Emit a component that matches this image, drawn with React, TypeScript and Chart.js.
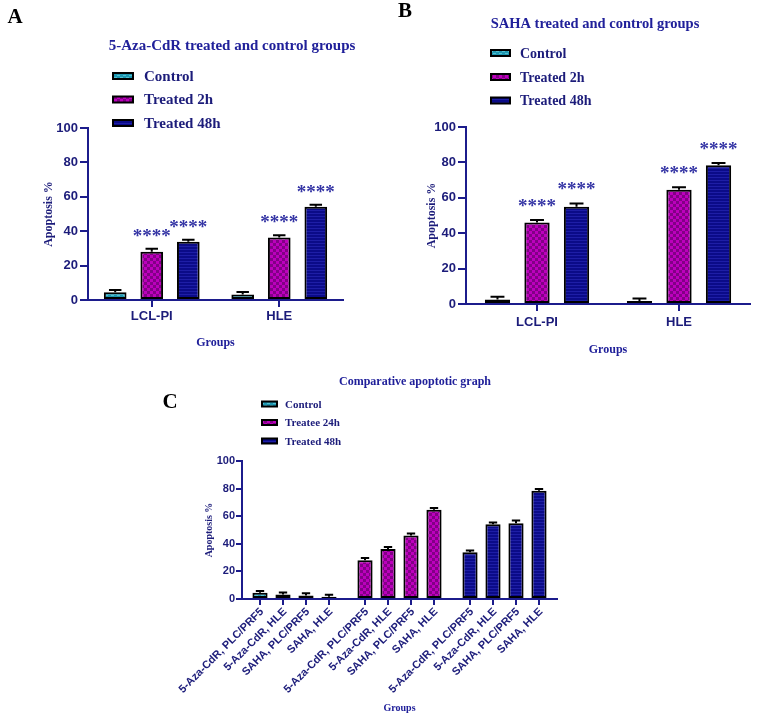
import React, { useEffect, useRef } from 'react';
import { Chart, registerables } from 'chart.js';
Chart.register(...registerables);

// ---------- data ----------
const groupsAB = ['LCL-PI', 'HLE'];
const seriesAB = ['Control', 'Treated 2h', 'Treated 48h'];

const aControl = [4.5, 3.2];
const aControlErr = [1.3, 1.5];
const aTreated2h = [28, 36.3];
const aTreated2hErr = [1.8, 1.4];
const aTreated48h = [33.8, 54.2];
const aTreated48hErr = [1.3, 1.2];

const bControl = [2.6, 1.7];
const bControlErr = [1.5, 1.4];
const bTreated2h = [46, 64.6];
const bTreated2hErr = [1.4, 1.3];
const bTreated48h = [54.9, 78.4];
const bTreated48hErr = [1.9, 1.3];

const cCombos = ['5-Aza-CdR, PLC/PRF5', '5-Aza-CdR, HLE', 'SAHA, PLC/PRF5', 'SAHA, HLE'];
const cSeries = ['Control', 'Treatee 24h', 'Treated 48h'];
const cControl = [4.5, 3.2, 2.6, 1.7];
const cControlErr = [1.3, 1.5, 1.5, 1.4];
const cTreated24h = [28, 36.3, 46, 64.6];
const cTreated24hErr = [1.8, 1.4, 1.4, 1.3];
const cTreated48h = [33.8, 54.2, 54.9, 78.4];
const cTreated48hErr = [1.3, 1.2, 1.9, 1.3];

const starMark = '****';

// ---------- styles ----------
const SANS = '"Liberation Sans", Arial, sans-serif';
const SERIF = '"Liberation Serif", "Times New Roman", serif';
const AXIS = '#1c1c8c';
const TEXT = '#1c1c7a';
const TITLE = '#20209a';
const STAR = '#3535a5';

function makePatterns() {
  const mk = (w: number, h: number, draw: (x: CanvasRenderingContext2D) => void) => {
    const c = document.createElement('canvas');
    c.width = w; c.height = h;
    const x = c.getContext('2d')!;
    draw(x);
    return x.createPattern(c, 'repeat')!;
  };
  const teal = mk(6, 4, (x) => {
    x.fillStyle = '#1f98b2'; x.fillRect(0, 0, 6, 4);
    x.fillStyle = '#55c0d0'; x.fillRect(0, 1, 3, 1); x.fillRect(3, 3, 3, 1);
  });
  const magenta = mk(6, 6, (x) => {
    x.fillStyle = '#bd00bd'; x.fillRect(0, 0, 6, 6);
    x.fillStyle = '#820086'; x.fillRect(0, 0, 3, 3); x.fillRect(3, 3, 3, 3);
  });
  const navy = mk(4, 3, (x) => {
    x.fillStyle = '#0b0b88'; x.fillRect(0, 0, 4, 3);
    x.fillStyle = '#1e1ea6'; x.fillRect(0, 0, 4, 1);
  });
  return { teal, magenta, navy };
}

type Spec = {
  letter: string; letterX: number; letterY: number;
  title: string; titleX: number; titleY: number; titleSize: number;
  legendLabels: string[]; legendFills: any[];
  sx: number; sw: number; sh: number; tx: number; rows: number[]; legendSize: number;
  errors: number[][];
  stars?: boolean[];
  starGap?: number;
  capRatio: number;
  barLabels?: string[];
  barLabelSize?: number;
};

function annotate(spec: Spec) {
  return {
    id: 'annotate',
    afterDatasetsDraw(chart: any) {
      const ctx = chart.ctx as CanvasRenderingContext2D;
      const ys = chart.scales.y;
      const area = chart.chartArea;
      ctx.save();
      chart.data.datasets.forEach((ds: any, i: number) => {
        const meta = chart.getDatasetMeta(i);
        meta.data.forEach((el: any, j: number) => {
          const p = el.getProps(['x', 'y', 'width'], true);
          const v = ds.data[j];
          const e = spec.errors[i][j];
          const yTop = ys.getPixelForValue(v + e);
          const cap = p.width * spec.capRatio;
          ctx.strokeStyle = '#000';
          ctx.lineWidth = 2;
          ctx.beginPath();
          ctx.moveTo(p.x, p.y);
          ctx.lineTo(p.x, yTop);
          ctx.moveTo(p.x - cap / 2, yTop);
          ctx.lineTo(p.x + cap / 2, yTop);
          ctx.stroke();
          if (spec.stars && spec.stars[i]) {
            ctx.fillStyle = STAR;
            ctx.font = `bold 19px ${SERIF}`;
            ctx.textAlign = 'center';
            ctx.textBaseline = 'middle';
            ctx.fillText(starMark, p.x, yTop - (spec.starGap || 12));
          }
          if (spec.barLabels) {
            ctx.strokeStyle = AXIS;
            ctx.beginPath();
            ctx.moveTo(p.x, area.bottom);
            ctx.lineTo(p.x, area.bottom + 6);
            ctx.stroke();
            ctx.save();
            ctx.translate(p.x + 2, area.bottom + 11);
            ctx.rotate(-Math.PI / 4);
            ctx.fillStyle = TEXT;
            ctx.font = `bold ${spec.barLabelSize}px ${SANS}`;
            ctx.textAlign = 'right';
            ctx.textBaseline = 'middle';
            ctx.fillText(spec.barLabels[i], 0, 0);
            ctx.restore();
          }
        });
      });
      ctx.restore();
    },
    afterDraw(chart: any) {
      const ctx = chart.ctx as CanvasRenderingContext2D;
      ctx.save();
      ctx.fillStyle = '#000';
      ctx.font = `bold 21px ${SERIF}`;
      ctx.textAlign = 'center';
      ctx.textBaseline = 'middle';
      ctx.fillText(spec.letter, spec.letterX, spec.letterY);
      ctx.fillStyle = TITLE;
      ctx.font = `bold ${spec.titleSize}px ${SERIF}`;
      ctx.fillText(spec.title, spec.titleX, spec.titleY);
      spec.legendLabels.forEach((lab, k) => {
        const ry = spec.rows[k];
        ctx.fillStyle = spec.legendFills[k];
        ctx.fillRect(spec.sx, ry - spec.sh / 2 - 1, spec.sw, spec.sh);
        ctx.strokeStyle = '#000';
        ctx.lineWidth = 2;
        ctx.strokeRect(spec.sx, ry - spec.sh / 2 - 1, spec.sw, spec.sh);
        ctx.fillStyle = TEXT;
        ctx.font = `bold ${spec.legendSize}px ${SERIF}`;
        ctx.textAlign = 'left';
        ctx.fillText(lab, spec.tx, ry);
      });
      ctx.restore();
    },
  };
}

function yScale(o: any) {
  return {
    min: 0, max: 100,
    ticks: { stepSize: 20, font: { family: SANS, size: o.tickSize, weight: 'bold' }, color: TEXT, padding: o.tickPad },
    grid: { drawOnChartArea: false, color: AXIS, lineWidth: 2, tickLength: o.tickLen, tickColor: AXIS },
    border: { color: AXIS, width: 2 },
    title: {
      display: true, text: 'Apoptosis %',
      font: { family: SERIF, size: o.titleSize, weight: 'bold' }, color: TEXT,
      padding: { top: o.titlePad, bottom: 0 },
    },
    afterFit: (s: any) => { s.width = o.width; },
  };
}

function xScaleAB(o: any) {
  return {
    grid: { offset: false, drawOnChartArea: false, color: AXIS, lineWidth: 2, tickLength: 7, tickColor: AXIS },
    border: { color: AXIS, width: 2 },
    ticks: { font: { family: SANS, size: 13, weight: 'bold' }, color: TEXT, padding: o.tickPad, maxRotation: 0 },
    title: {
      display: true, text: 'Groups',
      font: { family: SERIF, size: 12, weight: 'bold' }, color: TITLE,
      padding: { top: 0, bottom: o.titlePad },
    },
    afterFit: (s: any) => { s.height = o.height; },
  };
}

function buildAB(which: 'A' | 'B') {
  const P = makePatterns();
  const isA = which === 'A';
  const vals = isA ? [aControl, aTreated2h, aTreated48h] : [bControl, bTreated2h, bTreated48h];
  const errs = isA ? [aControlErr, aTreated2hErr, aTreated48hErr] : [bControlErr, bTreated2hErr, bTreated48hErr];
  const fills = [P.teal, P.magenta, P.navy];
  const spec: Spec = isA
    ? {
        letter: 'A', letterX: 15, letterY: 18,
        title: '5-Aza-CdR treated and control groups', titleX: 232, titleY: 46, titleSize: 15,
        legendLabels: seriesAB, legendFills: fills,
        sx: 113, sw: 20, sh: 6, tx: 144, rows: [77, 100.5, 124], legendSize: 15,
        errors: errs, stars: [false, true, true], starGap: 12, capRatio: 0.55,
      }
    : {
        letter: 'B', letterX: 26, letterY: 12,
        title: 'SAHA treated and control groups', titleX: 216, titleY: 24, titleSize: 14.5,
        legendLabels: seriesAB, legendFills: fills,
        sx: 112, sw: 19, sh: 6, tx: 141, rows: [54, 78, 101.5], legendSize: 14,
        errors: errs, stars: [false, true, true], starGap: 13, capRatio: 0.55,
      };
  return {
    type: 'bar',
    data: {
      labels: groupsAB,
      datasets: seriesAB.map((s, i) => ({
        label: s, data: vals[i], backgroundColor: fills[i],
        borderColor: '#000', borderWidth: 2, borderSkipped: false,
        categoryPercentage: isA ? 0.86 : 0.835, barPercentage: isA ? 0.62 : 0.64,
      })),
    },
    options: {
      responsive: false, animation: false,
      layout: { padding: isA ? { left: 0, top: 128, right: 36, bottom: 0 } : { left: 0, top: 127, right: 8, bottom: 0 } },
      plugins: { legend: { display: false }, tooltip: { enabled: false } },
      scales: {
        x: xScaleAB(isA ? { tickPad: 2, titlePad: 10, height: 60 } : { tickPad: 4, titlePad: 3, height: 56 }),
        y: yScale(isA
          ? { tickSize: 13, tickPad: 2, tickLen: 8, titleSize: 12, titlePad: 42, width: 88 }
          : { tickSize: 13, tickPad: 2, tickLen: 8, titleSize: 12, titlePad: 46, width: 87 }),
      },
    },
    plugins: [annotate(spec)],
  };
}

function buildC() {
  const P = makePatterns();
  const fills = [P.teal, P.magenta, P.navy];
  const series = [cControl, cTreated24h, cTreated48h];
  const seriesErr = [cControlErr, cTreated24hErr, cTreated48hErr];
  const spec: Spec = {
    letter: 'C', letterX: 170, letterY: 43,
    title: 'Comparative apoptotic graph', titleX: 415, titleY: 22, titleSize: 12,
    legendLabels: cSeries, legendFills: fills,
    sx: 262, sw: 15, sh: 5, tx: 285, rows: [45, 63.5, 82], legendSize: 11,
    errors: cCombos.map((_, i) => seriesErr.map((e) => e[i])),
    capRatio: 0.55,
    barLabels: cCombos, barLabelSize: 11,
  };
  return {
    type: 'bar',
    data: {
      labels: cSeries,
      datasets: cCombos.map((name, i) => ({
        label: name, data: series.map((s) => s[i]), backgroundColor: fills,
        borderColor: '#000', borderWidth: 2, borderSkipped: false,
        categoryPercentage: 0.876, barPercentage: 0.66,
      })),
    },
    options: {
      responsive: false, animation: false,
      layout: { padding: { left: 0, top: 101, right: 201, bottom: 0 } },
      plugins: { legend: { display: false }, tooltip: { enabled: false } },
      scales: {
        x: {
          grid: { display: false },
          border: { color: AXIS, width: 2 },
          ticks: { display: false },
          title: {
            display: true, text: 'Groups',
            font: { family: SERIF, size: 10, weight: 'bold' }, color: TITLE,
            padding: { top: 0, bottom: 6 },
          },
          afterFit: (s: any) => { s.height = 121; },
        },
        y: yScale({ tickSize: 11, tickPad: 1, tickLen: 6, titleSize: 10, titlePad: 203, width: 242 }),
      },
    },
    plugins: [annotate(spec)],
  };
}

function Panel({ left, top, width, height, build }: any) {
  const ref = useRef<HTMLCanvasElement>(null);
  useEffect(() => {
    const chart = new Chart(ref.current!, build());
    return () => chart.destroy();
  }, []);
  return (
    <canvas
      ref={ref}
      width={width}
      height={height}
      style={{ position: 'absolute', left, top, width, height }}
    />
  );
}

export default function App() {
  return (
    <div style={{ position: 'fixed', left: 0, top: 0, width: 758, height: 720, background: '#fff', overflow: 'hidden' }}>
      <Panel left={0} top={0} width={379} height={360} build={() => buildAB('A')} />
      <Panel left={379} top={0} width={379} height={360} build={() => buildAB('B')} />
      <Panel left={0} top={360} width={758} height={360} build={buildC} />
    </div>
  );
}
